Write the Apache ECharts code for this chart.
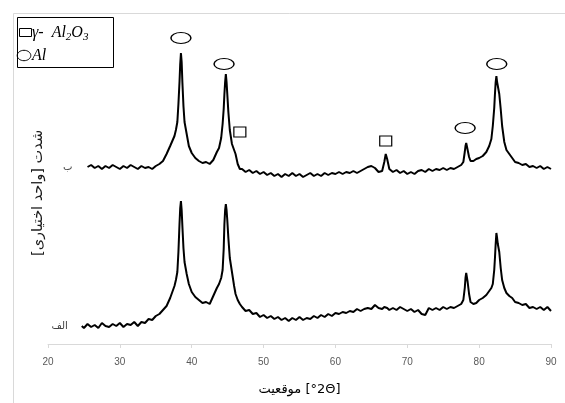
<!DOCTYPE html>
<html>
<head>
<meta charset="utf-8">
<script src="https://cdn.jsdelivr.net/npm/echarts@6/dist/echarts.min.js"></script>
<style>
html,body{margin:0;padding:0;background:#fff;}
#c{width:565px;height:403px;}
</style>
</head>
<body>
<div id="c"></div>
<script>
// 2-theta positions (degrees), shared by both patterns
var theta = [
  24.7,25,25.5,26,26.5,27,27.5,28,28.5,29,29.5,30,30.5,31,31.5,32,32.5,33,33.5,34,34.5,35,35.5,36,36.5,37,
  37.3,37.6,37.8,38.0,38.15,38.3,38.4,38.5,38.6,38.7,38.85,39.0,39.3,39.6,
  40,40.5,41,41.5,42,42.5,43,43.5,
  43.8,44.1,44.3,44.45,44.55,44.65,44.75,44.85,44.95,45.1,45.3,45.6,45.9,46.1,46.4,46.7,
  47,47.5,48,48.5,49,49.5,50,50.5,51,51.5,52,52.5,53,53.5,54,54.5,55,55.5,56,56.5,
  57,57.5,58,58.5,59,59.5,60,60.5,61,61.5,62,62.5,63,63.5,64,64.5,65,65.5,66,66.5,
  66.8,67.0,67.2,67.5,
  68,68.5,69,69.5,70,70.5,71,71.5,72,72.5,73,73.5,74,74.5,75,75.5,76,76.5,77,77.5,
  77.8,78.0,78.1,78.2,78.3,78.4,78.6,78.8,
  79.2,79.6,80,80.5,81,81.4,
  81.7,81.9,82.1,82.2,82.3,82.4,82.5,82.6,82.7,82.8,83.0,83.2,83.5,83.8,
  84.2,84.6,85,85.5,86,86.5,87,87.5,88,88.5,89,89.5,90
];
// pattern "الف" (lower trace), arbitrary units
var intensityAlef = [
  18,16,20,17,19,16,21,18,17,20,18,21,17,20,19,22,18,22,21,25,24,28,30,34,38,46,
  52,58,64,72,92,120,136,143,134,118,96,82,70,60,
  52,47,44,41,42,40,48,56,
  60,66,74,95,120,134,140,134,124,106,86,72,58,50,44,40,
  37,33,34,30,31,27,29,26,28,25,27,24,26,23,26,24,27,24,26,25,
  28,26,29,27,30,28,31,30,32,31,33,32,35,33,35,36,35,39,36,35,
  37,35,36,34,
  36,34,37,35,33,35,32,34,30,29,36,34,36,34,37,35,37,36,38,40,
  44,56,66,71,70,62,50,42,
  40,41,44,46,49,53,
  56,60,74,86,100,111,106,100,102,92,76,64,56,51,
  48,46,42,41,39,40,36,37,35,37,34,37,33
];
// pattern "ب" (upper trace, offset), arbitrary units
var intensityBe = [
  null,null,177,179,176,178,175,178,176,179,177,175,178,176,179,177,175,178,176,177,175,178,180,183,190,198,
  203,208,214,222,240,262,280,291,282,262,238,222,210,198,
  191,186,183,181,182,180,184,192,
  196,206,220,235,250,262,270,262,250,232,214,200,194,190,180,175,
  175,172,174,171,173,170,172,169,171,168,170,167,170,168,171,168,170,167,169,171,
  168,170,168,171,169,171,170,172,170,172,171,173,171,173,175,177,178,176,172,173,
  182,190,185,175,
  172,174,171,173,170,172,170,173,174,172,175,173,175,174,176,174,176,175,177,179,
  182,192,198,201,200,194,187,183,
  183,185,186,188,192,198,
  205,218,236,250,262,268,262,258,260,250,235,218,202,194,
  190,186,182,181,179,180,177,178,176,178,175,177,175
];
var xTicks = [20,30,40,50,60,70,80,90];
var seriesNames = ['الف','ب'];
// peak markers: [2theta, intensity, kind]
var peakMarks = [
  [38.5, 306, 'Al'], [44.5, 280, 'Al'], [82.45, 280, 'Al'], [78.05, 216, 'Al'],
  [46.7, 212, 'Al2O3'], [67.0, 203, 'Al2O3']
];

function buildData(vals){
  var out = [];
  for (var i = 0; i < theta.length; i++) out.push([theta[i], vals[i]]);
  return out;
}
function startLabel(vals, text, dist){
  for (var i = 0; i < theta.length; i++) {
    if (vals[i] != null) {
      return {coord:[theta[i], vals[i]], symbol:'circle', symbolSize:2,
        itemStyle:{color:'rgba(0,0,0,0)', borderWidth:0},
        label:{show:true, position:'left', distance:dist, formatter:text,
          fontFamily:'DejaVu Sans', fontSize:10, color:'#404040'}};
    }
  }
}

var markData = peakMarks.map(function(m){
  var isAl = m[2] === 'Al';
  return {coord:[m[0], m[1]], symbol: isAl ? 'circle' : 'rect',
    symbolSize: isAl ? [20, 11] : [12, 10],
    itemStyle:{color:'#fff', borderColor:'#000', borderWidth:1.1}, label:{show:false}};
});

var chart = echarts.init(document.getElementById('c'), null, {renderer:'canvas'});
chart.setOption({
  animation:false,
  backgroundColor:'#fff',
  grid:{left:48, right:14, top:20, bottom:59},
  xAxis:{
    type:'value', min:20, max:90, interval:10,
    axisLine:{lineStyle:{color:'#d9d9d9', width:1}},
    axisTick:{show:true, length:4, lineStyle:{color:'#d9d9d9'}},
    splitLine:{show:false},
    axisLabel:{color:'#595959', fontSize:10, fontFamily:'Liberation Sans', margin:13,
      customValues: xTicks},
    name:'موقعیت\u200E [°2Θ]', nameLocation:'middle', nameGap:39,
    nameTextStyle:{color:'#000', fontSize:13, fontFamily:'DejaVu Sans'}
  },
  yAxis:{type:'value', min:0, max:324, show:false},
  graphic:[
    {type:'rect', silent:true, z:-1, shape:{x:13.5, y:13.5, width:700, height:600},
      style:{fill:'none', stroke:'#d9d9d9', lineWidth:1}},
    {type:'text', silent:true, x:38, y:193, rotation:Math.PI/2,
      style:{text:'[اختیاری\u200E \u200Eواحد\u200E] \u200Eشدت', font:'14.5px "DejaVu Sans"', fill:'#1a1a1a',
        align:'center', verticalAlign:'middle'}},
    {type:'group', silent:true, z:10, children:[
      {type:'rect', shape:{x:17.5, y:17.5, width:96, height:50}, style:{fill:'#fff', stroke:'#000', lineWidth:1}},
      {type:'rect', shape:{x:19.5, y:28.5, width:12, height:8}, style:{fill:'none', stroke:'#000', lineWidth:1}},
      {type:'text', x:32, y:33,
        style:{text:'{a|γ-  Al}{s|2}{a|O}{s|3}', verticalAlign:'middle', align:'left',
          rich:{a:{fontFamily:'Liberation Serif', fontStyle:'italic', fontSize:16, color:'#000'},
                s:{fontFamily:'Liberation Serif', fontStyle:'italic', fontSize:11, color:'#000', padding:[8,0,0,0]}}}},
      {type:'ellipse', shape:{cx:24, cy:55.5, rx:6.8, ry:5.2}, style:{fill:'none', stroke:'#000', lineWidth:1}},
      {type:'text', x:32, y:56,
        style:{text:'Al', font:'italic 16px "Liberation Serif"', fill:'#000', align:'left', verticalAlign:'middle'}}
    ]}
  ],
  series:[
    {name:seriesNames[0], type:'line', showSymbol:false, symbol:'none',
      lineStyle:{color:'#000', width:2}, data:buildData(intensityAlef),
      markPoint:{silent:true, data:[startLabel(intensityAlef, seriesNames[0], 13)]}},
    {name:seriesNames[1], type:'line', showSymbol:false, symbol:'none', connectNulls:false,
      lineStyle:{color:'#000', width:2}, data:buildData(intensityBe),
      markPoint:{silent:true, data:markData.concat([startLabel(intensityBe, seriesNames[1], 14)])}}
  ]
});
</script>
</body>
</html>
